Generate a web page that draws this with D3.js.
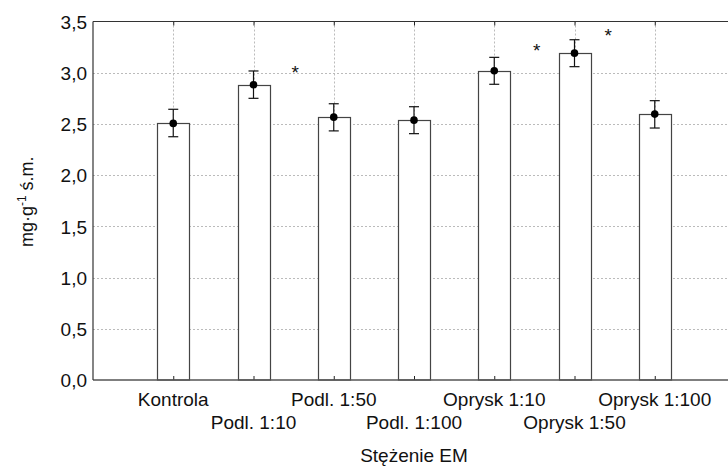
<!DOCTYPE html>
<html><head><meta charset="utf-8">
<script src="https://cdn.jsdelivr.net/npm/d3@7/dist/d3.min.js"></script>
<style>body{margin:0;background:#fff}svg{display:block}text{font-family:"Liberation Sans",Arial,sans-serif}</style>
</head><body>
<script>
const categories = ["Kontrola","Podl. 1:10","Podl. 1:50","Podl. 1:100","Oprysk 1:10","Oprysk 1:50","Oprysk 1:100"];
const means = [2.505, 2.883, 2.566, 2.537, 3.019, 3.191, 2.596];
const errLow = [2.375, 2.750, 2.432, 2.405, 2.887, 3.059, 2.460];
const errHigh = [2.643, 3.017, 2.697, 2.668, 3.150, 3.322, 2.727];
const yTicks = [0, 0.5, 1.0, 1.5, 2.0, 2.5, 3.0, 3.5];
const starPos = [2.52, 5.53, 6.42];   // position along category axis (index+1)
const starVal = [3.05, 3.26, 3.41];
const yTitle = "mg·g";
const xTitle = "Stężenie EM";

const W = 728, H = 467;
const L = 93, R = 735, T = 21.5, B = 380;
const FS = 19;
const svg = d3.select("body").append("svg").attr("width", W).attr("height", H);

const x = d3.scalePoint().domain(categories).range([L, R]).padding(1);
const xi = d3.scaleLinear().domain([0, categories.length + 1]).range([L, R]);
const y = d3.scaleLinear().domain([0, 3.5]).range([B, T]);
const bw = 32;

// gridlines
svg.append("g").selectAll("line").data(yTicks.slice(1, -1)).join("line")
  .attr("x1", L).attr("x2", W).attr("y1", d => Math.round(y(d)) + 0.5).attr("y2", d => Math.round(y(d)) + 0.5)
  .attr("stroke", "#bbb").attr("stroke-dasharray", "2,2");
svg.append("g").selectAll("line").data(categories).join("line")
  .attr("x1", d => Math.round(x(d)) + 0.5).attr("x2", d => Math.round(x(d)) + 0.5)
  .attr("y1", T).attr("y2", B)
  .attr("stroke", "#bbb").attr("stroke-dasharray", "2,2");

// bars
svg.append("g").selectAll("rect").data(categories).join("rect")
  .attr("x", d => Math.round(x(d) - bw / 2) + 0.5)
  .attr("y", (d, i) => Math.round(y(means[i])) + 0.5)
  .attr("width", bw)
  .attr("height", (d, i) => B - Math.round(y(means[i])) - 0.5)
  .attr("fill", "#fff").attr("stroke", "#444").attr("stroke-width", 1.2);

// axes
const yAxis = d3.axisLeft(y).tickValues(yTicks).tickSize(0).tickPadding(6)
  .tickFormat(d => d3.format(".1f")(d).replace(".", ","));
const gy = svg.append("g").attr("transform", `translate(${L},0)`).call(yAxis);
gy.select(".domain").remove();
gy.selectAll("text").attr("font-size", FS).attr("fill", "#111").attr("dy", "0.35em");

const gt = svg.append("g").attr("transform", `translate(0,${T})`)
  .call(d3.axisTop(x).tickSize(-4).tickFormat(""));
gt.select(".domain").remove();
gt.selectAll("line").attr("stroke", "#222");
const gb = svg.append("g").attr("transform", `translate(0,${B})`)
  .call(d3.axisBottom(x).tickSize(-4).tickFormat(""));
gb.select(".domain").remove();
gb.selectAll("line").attr("stroke", "#222");

// frame
svg.append("line").attr("x1", L).attr("x2", W).attr("y1", T).attr("y2", T).attr("stroke", "#333").attr("stroke-width", 1.2);
svg.append("line").attr("x1", L).attr("x2", W).attr("y1", B).attr("y2", B).attr("stroke", "#555").attr("stroke-width", 1.6);
svg.append("line").attr("x1", L).attr("x2", L).attr("y1", T).attr("y2", B).attr("stroke", "#333").attr("stroke-width", 1.2);

// x labels staggered
svg.append("g").selectAll("text").data(categories).join("text")
  .attr("x", d => x(d)).attr("y", (d, i) => i % 2 === 0 ? 405.5 : 428.5)
  .attr("text-anchor", "middle").attr("font-size", FS).attr("fill", "#111").text(d => d);

// error bars
const eb = svg.append("g").attr("stroke", "#111").attr("stroke-width", 1.2);
categories.forEach((c, i) => {
  const cx = x(c);
  eb.append("line").attr("x1", cx).attr("x2", cx).attr("y1", y(errLow[i])).attr("y2", y(errHigh[i]));
  eb.append("line").attr("x1", cx - 5).attr("x2", cx + 5).attr("y1", y(errLow[i])).attr("y2", y(errLow[i]));
  eb.append("line").attr("x1", cx - 5).attr("x2", cx + 5).attr("y1", y(errHigh[i])).attr("y2", y(errHigh[i]));
});
svg.append("g").selectAll("circle").data(categories).join("circle")
  .attr("cx", d => x(d)).attr("cy", (d, i) => y(means[i])).attr("r", 3.8).attr("fill", "#000");

// stars
svg.append("g").selectAll("text").data(starPos).join("text")
  .attr("x", d => xi(d)).attr("y", (d, i) => y(starVal[i]) + 11)
  .attr("text-anchor", "middle").attr("font-size", FS).attr("fill", "#111").text("*");

// titles
const yt = svg.append("text").attr("transform", `translate(33,${(T + B) / 2 + 1}) rotate(-90)`)
  .attr("text-anchor", "middle").attr("font-size", 18).attr("fill", "#111");
yt.append("tspan").text(yTitle);
yt.append("tspan").attr("dy", -7).attr("font-size", 12).text("-1");
yt.append("tspan").attr("dy", 7).text(" ś.m.");

svg.append("text").attr("x", (L + R) / 2).attr("y", 461.5).attr("text-anchor", "middle")
  .attr("font-size", FS).attr("fill", "#111").text(xTitle);
</script>
</body></html>
